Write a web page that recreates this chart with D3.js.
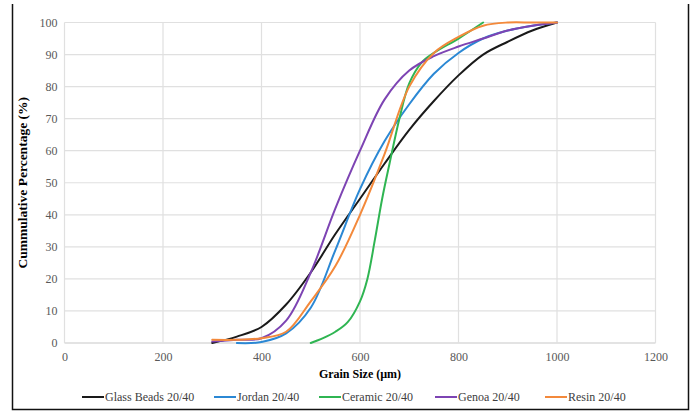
<!DOCTYPE html>
<html>
<head>
<meta charset="utf-8">
<script src="https://cdn.jsdelivr.net/npm/d3@7"></script>
<style>
  body { margin: 0; background: #fff; }
  text { font-family: "Liberation Serif", "Times New Roman", serif; }
</style>
</head>
<body>
<div id="chart"></div>
<script>
// Series names and colours (legend order)
const seriesNames = ['Glass Beads 20/40', 'Jordan 20/40', 'Ceramic 20/40', 'Genoa 20/40', 'Resin 20/40'];
const seriesColors = ['#1a1a1a', '#2b88d4', '#2fb552', '#7d44b3', '#f3893b'];

// Grain size (µm) and cumulative percentage for each sample
const glassSize = [300, 350, 400, 450, 500, 550, 600, 650, 700, 750, 800, 850, 900, 950, 1000];
const glassPct  = [0, 2, 5, 12, 22, 34, 45, 56, 66.5, 75.5, 83.5, 90, 94, 97.5, 100];

const jordanSize = [350, 400, 450, 500, 550, 600, 650, 700, 750, 800, 850, 900, 950, 1000];
const jordanPct  = [0, 0.3, 3, 11, 29, 48, 63, 74.5, 84, 90.5, 95, 97.5, 99, 100];

const ceramicSize = [500, 525, 550, 575, 600, 615, 630, 645, 660, 680, 700, 725, 750, 800, 850];
const ceramicPct  = [0, 1.5, 3.5, 6.5, 13, 20, 32, 45, 56, 70, 81, 87.5, 90.5, 95, 100];

const genoaSize = [300, 350, 400, 450, 500, 550, 600, 650, 700, 750, 800, 850, 900, 950, 1000];
const genoaPct  = [0.5, 1, 1.5, 7, 22, 42, 60, 76, 85, 89.5, 92.5, 95, 97.5, 99, 100];

const resinSize = [300, 350, 400, 450, 500, 550, 600, 650, 700, 750, 800, 850, 900, 950, 1000];
const resinPct  = [1, 1, 1.5, 3.5, 13, 24, 40, 59, 80, 90.5, 95.5, 99, 100, 100, 100];

const xTicks = [0, 200, 400, 600, 800, 1000, 1200];
const yTicks = [0, 10, 20, 30, 40, 50, 60, 70, 80, 90, 100];

const width = 693, height = 411;
const margin = { top: 22.5, right: 37.5, bottom: 68, left: 64.5 };

const svg = d3.select('#chart').append('svg')
    .attr('width', width)
    .attr('height', height);

// Outer frame (left, right, bottom edges)
svg.append('path')
    .attr('d', `M12.5,4 V409.5 H688.5 V4`)
    .attr('fill', 'none')
    .attr('stroke', '#111')
    .attr('stroke-width', 1.5);

const x = d3.scaleLinear().domain([0, 1200]).range([margin.left, width - margin.right]);
const y = d3.scaleLinear().domain([0, 100]).range([height - margin.bottom, margin.top]);

// Gridlines
svg.append('g').selectAll('line.h').data(yTicks).enter().append('line')
    .attr('x1', x(0)).attr('x2', x(1200))
    .attr('y1', d => y(d)).attr('y2', d => y(d))
    .attr('stroke', d => d === 0 ? '#c8c8c8' : '#e0e0e0')
    .attr('stroke-width', 1.2);
svg.append('g').selectAll('line.v').data(xTicks).enter().append('line')
    .attr('x1', d => x(d)).attr('x2', d => x(d))
    .attr('y1', y(0)).attr('y2', y(100))
    .attr('stroke', '#e0e0e0')
    .attr('stroke-width', 1.2);

// Axes (labels only, Excel style)
const xAxis = svg.append('g')
    .attr('transform', `translate(0,${y(0) + 5})`)
    .call(d3.axisBottom(x).tickValues(xTicks).tickFormat(d3.format('d')).tickSize(0).tickPadding(4));
const yAxis = svg.append('g')
    .attr('transform', `translate(${x(0) - 7},0)`)
    .call(d3.axisLeft(y).tickValues(yTicks).tickFormat(d3.format('d')).tickSize(0).tickPadding(0));
[xAxis, yAxis].forEach(a => {
    a.select('.domain').remove();
    a.selectAll('text')
        .style('font-family', '"Liberation Serif", serif')
        .style('font-size', '12px')
        .attr('fill', '#595959');
});

// Axis titles
svg.append('text')
    .attr('x', (x(0) + x(1200)) / 2)
    .attr('y', 378)
    .attr('text-anchor', 'middle')
    .style('font-size', '12px')
    .style('font-weight', 'bold')
    .text('Grain Size (µm)');

svg.append('text')
    .attr('transform', `translate(27,${(y(0) + y(100)) / 2}) rotate(-90)`)
    .attr('text-anchor', 'middle')
    .style('font-size', '13.5px')
    .style('font-weight', 'bold')
    .text('Cummulative Percentage (%)');

// Curves
const seriesData = [
    glassSize.map((s, i) => [s, glassPct[i]]),
    jordanSize.map((s, i) => [s, jordanPct[i]]),
    ceramicSize.map((s, i) => [s, ceramicPct[i]]),
    genoaSize.map((s, i) => [s, genoaPct[i]]),
    resinSize.map((s, i) => [s, resinPct[i]])
];

const line = d3.line()
    .x(d => x(d[0]))
    .y(d => y(d[1]))
    .curve(d3.curveCatmullRom.alpha(0.5));

svg.append('g').selectAll('path').data(seriesData).enter().append('path')
    .attr('d', line)
    .attr('fill', 'none')
    .attr('stroke', (d, i) => seriesColors[i])
    .attr('stroke-width', 2)
    .attr('stroke-linecap', 'round');

// Legend
const legendX = [82, 214, 319, 435, 545];
const legend = svg.append('g').selectAll('g').data(seriesNames).enter().append('g')
    .attr('transform', (d, i) => `translate(${legendX[i]},397)`);
legend.append('line')
    .attr('x1', 0).attr('x2', 22)
    .attr('stroke', (d, i) => seriesColors[i])
    .attr('stroke-width', 2);
legend.append('text')
    .attr('x', 23)
    .attr('dy', '0.35em')
    .style('font-size', '12px')
    .attr('fill', '#404040')
    .text(d => d);
</script>
</body>
</html>
